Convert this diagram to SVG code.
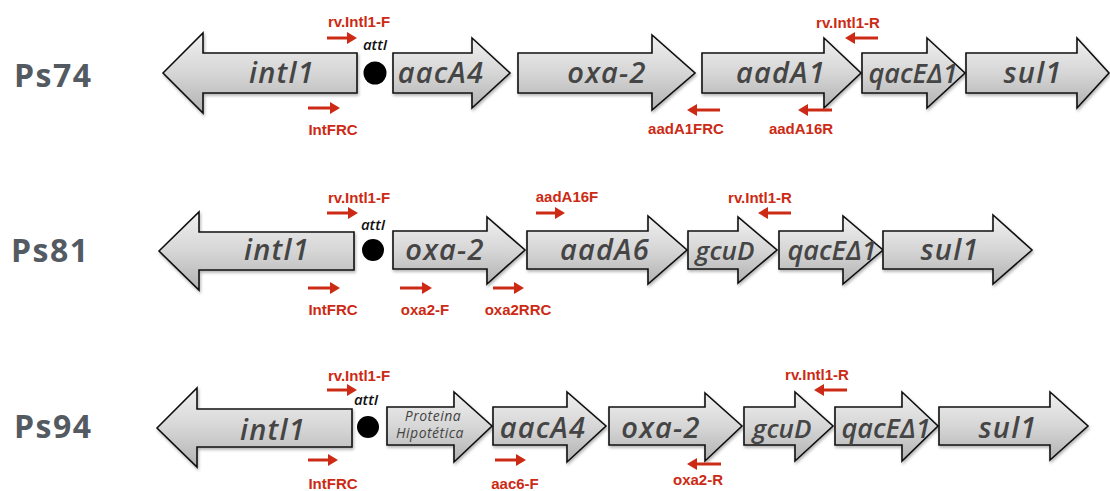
<svg xmlns="http://www.w3.org/2000/svg" width="1110" height="491" viewBox="0 0 1110 491">
<defs>
<linearGradient id="gg" x1="0" y1="0" x2="0" y2="1">
<stop offset="0" stop-color="#f0f0f0"/>
<stop offset="0.5" stop-color="#d6d6d6"/>
<stop offset="1" stop-color="#b2b2b2"/>
</linearGradient>
<filter id="sh" x="-5%" y="-10%" width="115%" height="130%">
<feDropShadow dx="1" dy="2" stdDeviation="1.5" flood-color="#000" flood-opacity="0.3"/>
</filter>
<marker id="ah" markerUnits="userSpaceOnUse" markerWidth="10" markerHeight="12" refX="5" refY="6" orient="auto">
<path d="M0,0 L10,6 L0,12 z" fill="#cc2a14"/>
</marker>
<style>
.gene{fill:url(#gg);stroke:#111;stroke-width:1.6;stroke-linejoin:miter;filter:url(#sh)}
.gt{font-family:"Open Sans",sans-serif;font-style:italic;font-weight:600;font-size:29px;fill:#454545;text-anchor:middle;letter-spacing:1.2px}
.gs{font-family:"Open Sans",sans-serif;font-style:italic;font-size:14px;fill:#444;text-anchor:middle;letter-spacing:0.5px}
.att{font-family:"Open Sans",sans-serif;font-style:italic;font-weight:600;font-size:15px;fill:#111;text-anchor:middle}
.row{font-family:"Open Sans",sans-serif;font-weight:bold;font-size:32px;fill:#535a61;letter-spacing:1.5px}
.pl{font-family:"Liberation Sans",Arial,sans-serif;font-weight:bold;font-size:15px;fill:#cc2a14;text-anchor:middle}
.pa{stroke:#cc2a14;stroke-width:3;fill:none;marker-end:url(#ah)}
</style>
</defs>
<rect width="1110" height="491" fill="#fff"/>

<!-- Row labels -->
<g id="label-Ps74"><text class="row" x="14" y="87">Ps74</text></g>
<g id="label-Ps81"><text class="row" x="11" y="262">Ps81</text></g>
<g id="label-Ps94"><text class="row" x="14" y="438">Ps94</text></g>

<!-- Row 1: Ps74 (cy=73) -->
<g id="r1-intl1"><polygon class="gene" points="163,73 203,33 203,53 357,53 357,93 203,93 203,113"/><text class="gt" x="282" y="83">intl1</text></g>
<g id="r1-attI"><circle cx="375" cy="73" r="11.5" fill="#000"/><text class="att" x="375" y="50">attI</text></g>
<g id="r1-aacA4"><polygon class="gene" points="393,53 472,53 472,38 510,73 472,108 472,93 393,93"/><text class="gt" x="441" y="83">aacA4</text></g>
<g id="r1-oxa2"><polygon class="gene" points="518,53 652,53 652,35 695,73 652,110 652,93 518,93"/><text class="gt" x="607" y="83">oxa-2</text></g>
<g id="r1-aadA1"><polygon class="gene" points="702,53 824,53 824,38 861,73 824,108 824,93 702,93"/><text class="gt" x="781" y="83">aadA1</text></g>
<g id="r1-qacE"><polygon class="gene" points="862,53 927,53 927,38 965,73 927,108 927,93 862,93"/><text class="gt" x="913" y="83" style="font-size:27px;letter-spacing:0">qacEΔ1</text></g>
<g id="r1-sul1"><polygon class="gene" points="966,53 1077,53 1077,38 1109,73 1077,108 1077,93 966,93"/><text class="gt" x="1033" y="83">sul1</text></g>

<!-- Row 2: Ps81 (cy=250) -->
<g id="r2-intl1"><polygon class="gene" points="159,251 199,212 199,232 354,232 354,270 199,270 199,290"/><text class="gt" x="277" y="260">intl1</text></g>
<g id="r2-attI"><circle cx="373" cy="250" r="11" fill="#000"/><text class="att" x="373" y="230">attI</text></g>
<g id="r2-oxa2"><polygon class="gene" points="393,231 487,231 487,217 525,250 487,284 487,269 393,269"/><text class="gt" x="445" y="260">oxa-2</text></g>
<g id="r2-aadA6"><polygon class="gene" points="527,231 648,231 648,216 687,250 648,284 648,269 527,269"/><text class="gt" x="605" y="260">aadA6</text></g>
<g id="r2-gcuD"><polygon class="gene" points="688,231 738,231 738,217 777,250 738,283 738,269 688,269"/><text class="gt" x="725" y="260" style="font-size:26px;letter-spacing:0">gcuD</text></g>
<g id="r2-qacE"><polygon class="gene" points="779,231 843,231 843,216 883,250 843,284 843,269 779,269"/><text class="gt" x="832" y="260" style="font-size:27px;letter-spacing:0">qacEΔ1</text></g>
<g id="r2-sul1"><polygon class="gene" points="883,231 993,231 993,215 1032,250 993,284 993,269 883,269"/><text class="gt" x="950" y="260">sul1</text></g>

<!-- Row 3: Ps94 (cy=426) -->
<g id="r3-intl1"><polygon class="gene" points="157,428 197,388 197,409 352,409 352,447 197,447 197,467"/><text class="gt" x="273" y="440">intl1</text></g>
<g id="r3-attI"><circle cx="368" cy="427" r="11" fill="#000"/><text class="att" x="366" y="405">attI</text></g>
<g id="r3-prot"><polygon class="gene" points="387,407 454,407 454,392 492,426 454,462 454,445 387,445"/><text class="gs" x="433" y="421">Proteina</text><text class="gs" x="430" y="438">Hipotética</text></g>
<g id="r3-aacA4"><polygon class="gene" points="493,407 567,407 567,392 606,426 567,462 567,445 493,445"/><text class="gt" x="543" y="438">aacA4</text></g>
<g id="r3-oxa2"><polygon class="gene" points="609,407 705,407 705,393 742,426 705,461 705,445 609,445"/><text class="gt" x="661" y="438">oxa-2</text></g>
<g id="r3-gcuD"><polygon class="gene" points="744,407 795,407 795,392 833,426 795,461 795,445 744,445"/><text class="gt" x="782" y="438" style="font-size:26px;letter-spacing:0">gcuD</text></g>
<g id="r3-qacE"><polygon class="gene" points="835,407 902,407 902,392 938,426 902,461 902,445 835,445"/><text class="gt" x="886" y="438" style="font-size:27px;letter-spacing:0">qacEΔ1</text></g>
<g id="r3-sul1"><polygon class="gene" points="939,407 1050,407 1050,392 1088,426 1050,460 1050,445 939,445"/><text class="gt" x="1008" y="438">sul1</text></g>

<!-- Primer arrows (connectors) -->
<g id="primers">
<path class="pa" d="M327,38 H352"/>
<path class="pa" d="M308,108 H335"/>
<path class="pa" d="M878,38 H850"/>
<path class="pa" d="M720,110 H692"/>
<path class="pa" d="M832,110 H803"/>
<path class="pa" d="M327,213 H353"/>
<path class="pa" d="M308,288 H335"/>
<path class="pa" d="M400,288 H427"/>
<path class="pa" d="M493,288 H519"/>
<path class="pa" d="M536,213 H560"/>
<path class="pa" d="M791,213 H763"/>
<path class="pa" d="M327,390 H352"/>
<path class="pa" d="M308,460 H333"/>
<path class="pa" d="M495,460 H521"/>
<path class="pa" d="M847,390 H819"/>
<path class="pa" d="M721,464 H692"/>
</g>

<!-- Primer labels -->
<g id="primer-labels">
<text class="pl" x="359" y="27">rv.Intl1-F</text>
<text class="pl" x="333" y="135">IntFRC</text>
<text class="pl" x="848" y="28">rv.Intl1-R</text>
<text class="pl" x="686" y="134">aadA1FRC</text>
<text class="pl" x="801" y="134">aadA16R</text>
<text class="pl" x="359" y="203">rv.Intl1-F</text>
<text class="pl" x="333" y="315">IntFRC</text>
<text class="pl" x="425" y="315">oxa2-F</text>
<text class="pl" x="518" y="315">oxa2RRC</text>
<text class="pl" x="567" y="202">aadA16F</text>
<text class="pl" x="760" y="203">rv.Intl1-R</text>
<text class="pl" x="359" y="381">rv.Intl1-F</text>
<text class="pl" x="333" y="489">IntFRC</text>
<text class="pl" x="515" y="489">aac6-F</text>
<text class="pl" x="817" y="380">rv.Intl1-R</text>
<text class="pl" x="698" y="485">oxa2-R</text>
</g>
</svg>
